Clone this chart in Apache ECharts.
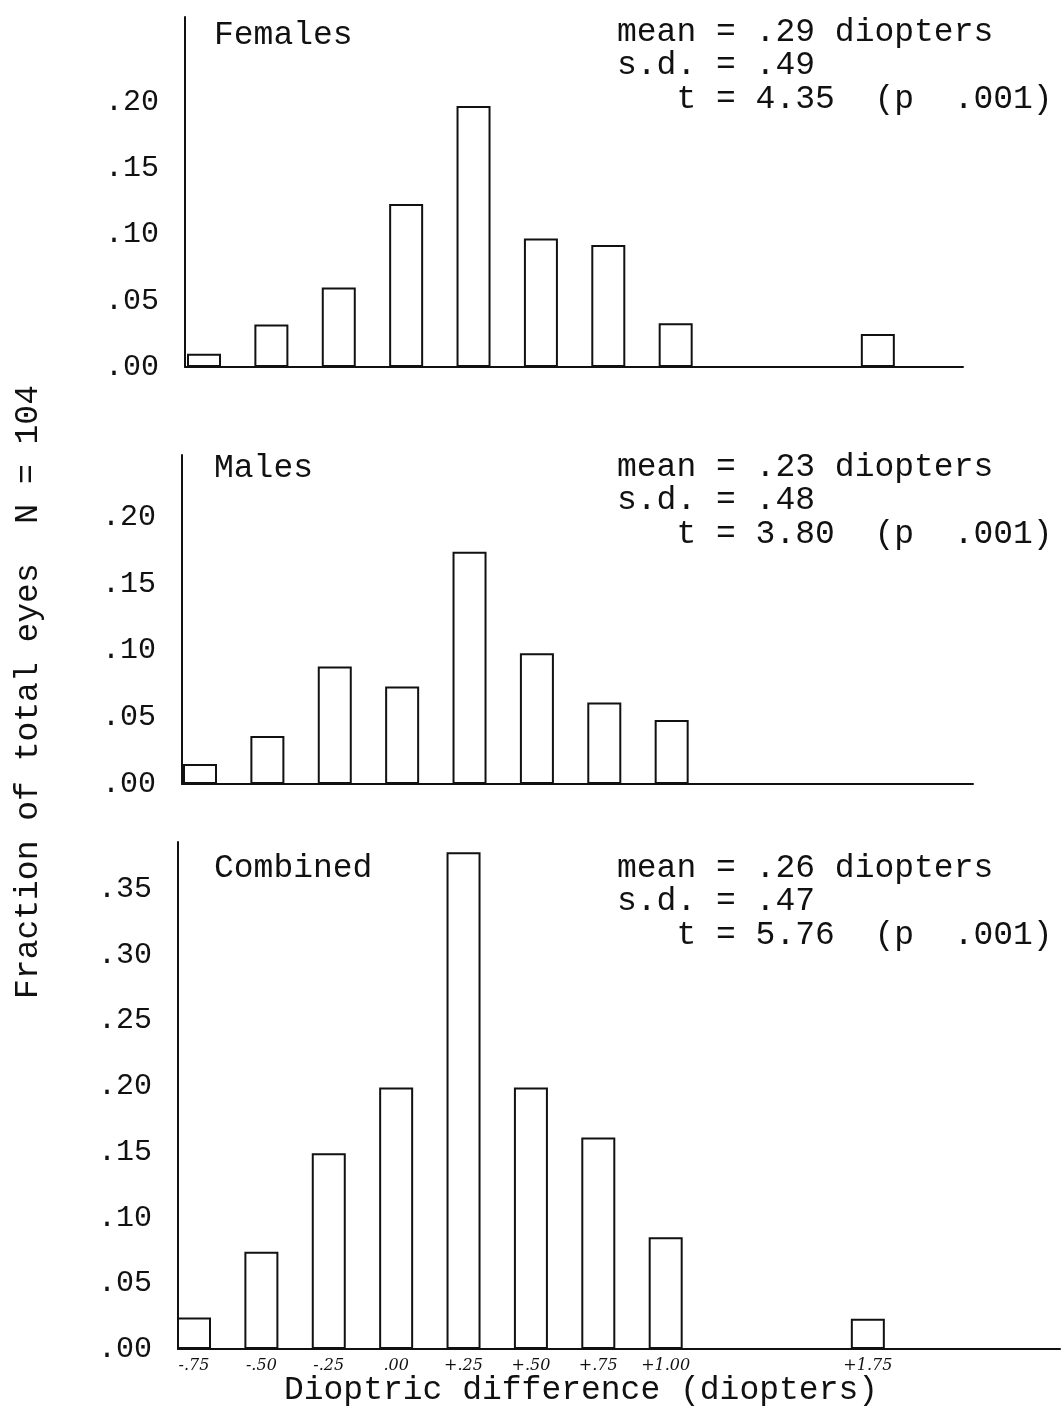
<!DOCTYPE html>
<html>
<head>
<meta charset="utf-8">
<script src="https://cdn.jsdelivr.net/npm/echarts@6/dist/echarts.min.js"></script>
<style>
html,body{margin:0;padding:0;background:#fff;}
#chart{width:1063px;height:1407px;}
</style>
</head>
<body>
<div id="chart"></div>
<script>
// ---- data ----
const dioptres = [-0.75, -0.50, -0.25, 0.00, 0.25, 0.50, 0.75, 1.00, 1.25, 1.50, 1.75];
const females  = [0.010, 0.032, 0.060, 0.123, 0.197, 0.097, 0.092, 0.033, 0, 0, 0.025];
const males    = [0.015, 0.036, 0.088, 0.073, 0.174, 0.098, 0.061, 0.048, 0, 0, 0];
const combined = [0.024, 0.074, 0.149, 0.199, 0.378, 0.199, 0.161, 0.085, 0, 0, 0.023];

const xTickValues = [-0.75, -0.50, -0.25, 0.00, 0.25, 0.50, 0.75, 1.00, 1.75];
const xTickLabels = ['-.75', '-.50', '-.25', '.00', '+.25', '+.50', '+.75', '+1.00', '+1.75'];

const yTicksSmall = [0, 0.05, 0.10, 0.15, 0.20];
const yTickLabelsSmall = ['.00', '.05', '.10', '.15', '.20'];
const yTicksCombined = [0, 0.05, 0.10, 0.15, 0.20, 0.25, 0.30, 0.35];
const yTickLabelsCombined = ['.00', '.05', '.10', '.15', '.20', '.25', '.30', '.35'];

const panelNames = ['Females', 'Males', 'Combined'];
const statMeans = ['.29', '.23', '.26'];
const statSDs = ['.49', '.48', '.47'];
const statTs = ['4.35', '3.80', '5.76'];
const statP = '.001';

const yTitle = 'Fraction of total eyes  N = 104';
const xTitle = 'Dioptric difference (diopters)';

// ---- chart ----
const INK = '#111';
const MONO = '"Liberation Mono", "DejaVu Sans Mono", monospace';

const grids = [
  {left: 185, top: 17,  width: 778, height: 350},
  {left: 182, top: 455, width: 791, height: 329},
  {left: 178, top: 842, width: 882, height: 507}
];
const xRanges = [[-0.8205, 2.066], [-0.8168, 2.118], [-0.8094, 2.463]];
const yMax = [0.2642, 0.2464, 0.3858];
const yLabelShift = [30, 26, 18];
const yTicksSets = [yTicksSmall, yTicksSmall, yTicksCombined];
const yLabelSets = [yTickLabelsSmall, yTickLabelsSmall, yTickLabelsCombined];
const seriesData = [females, males, combined];

const xAxes = grids.map((g, i) => ({
  type: 'value', gridIndex: i, min: xRanges[i][0], max: xRanges[i][1],
  axisLine: {show: true, onZero: false, lineStyle: {color: INK, width: 2}},
  axisTick: {show: false},
  splitLine: {show: false},
  axisLabel: i === 2 ? {
    show: true, customValues: xTickValues, margin: 9,
    formatter: v => { const k = xTickValues.findIndex(t => Math.abs(t - v) < 1e-6); return k >= 0 ? xTickLabels[k] : ''; },
    fontFamily: '"DejaVu Serif", serif', fontStyle: 'italic', fontSize: 16, color: INK
  } : {show: false}
}));

const yAxes = grids.map((g, i) => ({
  type: 'value', gridIndex: i, min: 0, max: yMax[i],
  axisLine: {show: true, onZero: false, lineStyle: {color: INK, width: 2}},
  axisTick: {show: false},
  splitLine: {show: false},
  axisLabel: {
    show: true, customValues: yTicksSets[i], margin: 26,
    formatter: v => { const k = yTicksSets[i].findIndex(t => Math.abs(t - v) < 1e-6); return k >= 0 ? yLabelSets[i][k] : ''; },
    fontFamily: MONO, fontSize: 30, color: INK,
    padding: [0, 0, yLabelShift[i], 0]
  }
}));

const series = seriesData.map((vals, i) => ({
  type: 'bar', xAxisIndex: i, yAxisIndex: i,
  data: dioptres.map((d, k) => [d, vals[k]]),
  barWidth: 34,
  itemStyle: {color: '#fff', borderColor: INK, borderWidth: 2},
  silent: true, animation: false
}));

const nameY = [35, 468, 868];
const statY = [32, 467, 868];
const graphics = [];
panelNames.forEach((name, i) => {
  graphics.push({type: 'text', x: 214, y: nameY[i],
    style: {text: name, font: '33px ' + MONO, fill: INK, textVerticalAlign: 'middle'}});
  const lines = ['mean = ' + statMeans[i] + ' diopters', 's.d. = ' + statSDs[i], '   t = ' + statTs[i] + '  (p  ' + statP + ')'];
  lines.forEach((ln, k) => {
    graphics.push({type: 'text', x: 617, y: statY[i] + k * 33.5,
      style: {text: ln, font: '33px ' + MONO, fill: INK, textVerticalAlign: 'middle'}});
  });
});
graphics.push({type: 'text', x: 28, y: 692, rotation: Math.PI / 2,
  style: {text: yTitle, font: '33px ' + MONO, fill: INK, textAlign: 'center', textVerticalAlign: 'middle'}});
graphics.push({type: 'text', x: 581, y: 1390,
  style: {text: xTitle, font: '33px ' + MONO, fill: INK, textAlign: 'center', textVerticalAlign: 'middle'}});

const chart = echarts.init(document.getElementById('chart'), null, {renderer: 'canvas'});
chart.setOption({
  animation: false,
  backgroundColor: '#fff',
  grid: grids.map(g => Object.assign({containLabel: false}, g)),
  xAxis: xAxes,
  yAxis: yAxes,
  series: series,
  graphic: graphics
});
</script>
</body>
</html>
